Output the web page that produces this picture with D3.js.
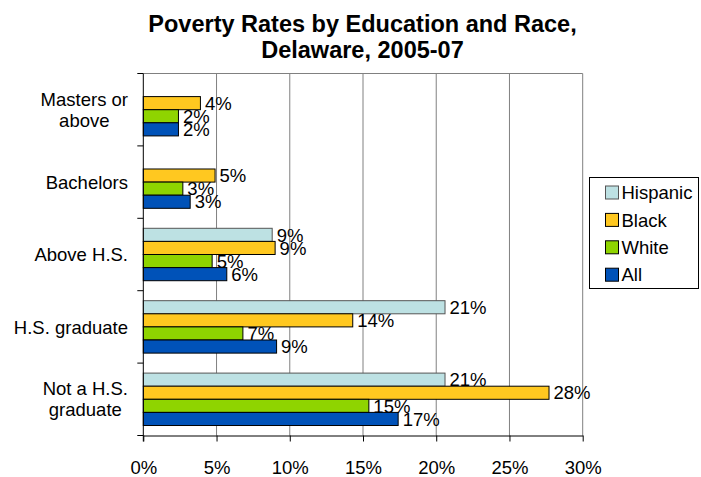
<!DOCTYPE html>
<html>
<head>
<meta charset="utf-8">
<script src="https://cdn.jsdelivr.net/npm/d3@7"></script>
<style>
    body { margin: 0; background: #fff; }
    text { font-family: "Liberation Sans", Arial, sans-serif; fill: #000; }
</style>
</head>
<body>
<div id="chart"></div>
<script>
// categories, top to bottom
const categories = ['Masters or above', 'Bachelors', 'Above H.S.', 'H.S. graduate', 'Not a H.S. graduate'];
const categoryLines = [['Masters or', 'above'], ['Bachelors'], ['Above H.S.'], ['H.S. graduate'], ['Not a H.S.', 'graduate']];
const series = ['Hispanic', 'Black', 'White', 'All'];
// poverty rate, percent
const hispanic = [null, null, 8.8, 20.6, 20.6];
const black = [3.9, 4.9, 9.0, 14.3, 27.7];
const white = [2.4, 2.7, 4.7, 6.8, 15.4];
const all = [2.4, 3.2, 5.7, 9.1, 17.4];
const xTicks = [0, 5, 10, 15, 20, 25, 30];
const title = ['Poverty Rates by Education and Race,', 'Delaware, 2005-07'];

const values = { Hispanic: hispanic, Black: black, White: white, All: all };
const colors = { Hispanic: '#bde1e3', Black: '#ffc820', White: '#8fd400', All: '#0052b8' };
const strokes = { Hispanic: '#555', Black: '#000', White: '#000', All: '#000' };

const width = 701, height = 477;
const plot = { left: 143.3, right: 582.7, top: 73.5, bottom: 435.5 };

const svg = d3.select('#chart')
    .append('svg')
    .attr('width', width)
    .attr('height', height);

// scales
const xScale = d3.scaleLinear().domain([0, 30]).range([plot.left, plot.right]);
const yScale = d3.scaleBand().domain(categories).range([plot.top, plot.bottom]);
const bw = yScale.bandwidth();
const pad = bw * 0.138;
const sScale = d3.scaleBand().domain(series).range([pad, bw - pad]);

// title
svg.append('text')
    .attr('text-anchor', 'middle')
    .style('font-size', '23.5px')
    .style('font-weight', 'bold')
    .selectAll('tspan')
    .data(title)
    .join('tspan')
    .attr('x', 362.5)
    .attr('y', (d, i) => 31.5 + i * 26.5)
    .text(d => d);

// gridlines
svg.append('g')
    .selectAll('line')
    .data(xTicks.slice(1))
    .join('line')
    .attr('x1', d => xScale(d)).attr('x2', d => xScale(d))
    .attr('y1', plot.top).attr('y2', plot.bottom)
    .attr('stroke', '#808080')
    .attr('stroke-width', 1);
svg.append('line')
    .attr('x1', plot.left).attr('x2', plot.right)
    .attr('y1', plot.top).attr('y2', plot.top)
    .attr('stroke', '#808080');

// bars
const groups = svg.append('g')
    .selectAll('g')
    .data(categories)
    .join('g')
    .attr('transform', d => `translate(0, ${yScale(d)})`);

const cells = groups.selectAll('g')
    .data((c, ci) => series.map(s => ({ s: s, v: values[s][ci] })).filter(d => d.v != null))
    .join('g');

cells.append('rect')
    .attr('x', xScale(0))
    .attr('y', d => sScale(d.s))
    .attr('width', d => xScale(d.v) - xScale(0))
    .attr('height', sScale.bandwidth())
    .attr('fill', d => colors[d.s])
    .attr('stroke', d => strokes[d.s])
    .attr('stroke-width', 1);

cells.append('text')
    .attr('x', d => xScale(d.v) + 4.5)
    .attr('y', d => sScale(d.s) + sScale.bandwidth() / 2)
    .attr('dy', '0.36em')
    .style('font-size', '18.5px')
    .text(d => Math.round(d.v) + '%');

// x axis
const xAxis = d3.axisBottom(xScale)
    .tickValues(xTicks)
    .tickFormat(d => d + '%')
    .tickSize(6)
    .tickSizeOuter(0)
    .tickPadding(19);
const xAxisG = svg.append('g')
    .attr('transform', `translate(0, ${plot.bottom})`)
    .call(xAxis);
xAxisG.select('.domain').attr('stroke', '#000');
xAxisG.selectAll('.tick line').attr('stroke', '#000');
xAxisG.selectAll('.tick text')
    .style('font-size', '18.5px')
    .attr('font-family', null)
    .attr('fill', '#000');

// y axis: line and band boundary ticks
const bounds = categories.map(c => yScale(c)).concat([plot.bottom]);
svg.append('line')
    .attr('x1', plot.left).attr('x2', plot.left)
    .attr('y1', plot.top).attr('y2', plot.bottom + 6)
    .attr('stroke', '#000');
svg.append('g')
    .selectAll('line')
    .data(bounds)
    .join('line')
    .attr('x1', plot.left - 6).attr('x2', plot.left)
    .attr('y1', d => d).attr('y2', d => d)
    .attr('stroke', '#000');

// category labels: block right-aligned, lines centred inside the block
const labelRight = 128;
svg.append('g')
    .selectAll('text')
    .data(categories)
    .join('text')
    .attr('text-anchor', 'middle')
    .style('font-size', '18.5px')
    .each(function(c, i) {
        const lines = categoryLines[i];
        const cy = yScale(c) + bw / 2;
        const lh = 21;
        const spans = d3.select(this).selectAll('tspan')
            .data(lines)
            .join('tspan')
            .attr('y', (d, j) => cy - (lines.length - 1) * lh / 2 + j * lh)
            .attr('dy', '0.36em')
            .text(d => d);
        const maxW = d3.max(spans.nodes(), n => n.getComputedTextLength());
        spans.attr('x', labelRight - maxW / 2);
    });

// legend
const legend = svg.append('g').attr('transform', 'translate(589.5, 177.5)');
legend.append('rect')
    .attr('width', 109)
    .attr('height', 111)
    .attr('fill', '#fff')
    .attr('stroke', '#000');
const items = legend.selectAll('g')
    .data(series)
    .join('g')
    .attr('transform', (d, i) => `translate(16, ${15 + i * 27.4})`);
items.append('rect')
    .attr('x', 0).attr('y', -6.5)
    .attr('width', 13).attr('height', 13)
    .attr('fill', d => colors[d])
    .attr('stroke', d => strokes[d]);
items.append('text')
    .attr('x', 16)
    .attr('dy', '0.36em')
    .style('font-size', '18.5px')
    .text(d => d);
</script>
</body>
</html>
